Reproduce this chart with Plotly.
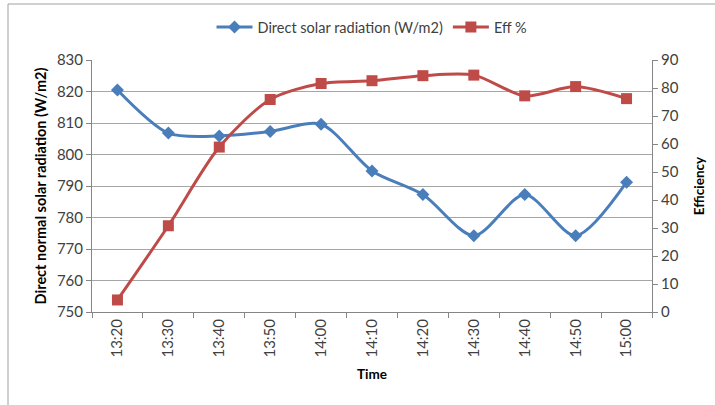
import plotly.graph_objects as go

# Observation times (10-minute steps)
times = ["13:20", "13:30", "13:40", "13:50", "14:00", "14:10",
         "14:20", "14:30", "14:40", "14:50", "15:00"]

# Direct normal solar radiation, W/m2
radiation = [820.5, 806.8, 805.9, 807.3, 809.6, 794.8,
             787.3, 774.2, 787.3, 774.2, 791.2]

# Collector efficiency, %
efficiency = [4.3, 30.8, 58.9, 75.9, 81.6, 82.6,
              84.4, 84.6, 77.2, 80.5, 76.2]

BLUE = "#4A7EBB"
RED = "#BE4B48"
FONT = "Lato, Open Sans, sans-serif"
TXT = "#404040"
AXIS = "#868686"

# plot-area geometry in pixels, used to place the outer frame and legend
L, R, T, B = 92, 652, 60, 312
PW, PH = R - L, B - T

fig = go.Figure()

fig.add_trace(go.Scatter(
    x=times, y=radiation, name="Direct solar radiation (W/m2)",
    mode="lines+markers",
    line=dict(color=BLUE, width=3, shape="spline", smoothing=0.8),
    marker=dict(symbol="diamond", size=10, color=BLUE),
    yaxis="y",
))

fig.add_trace(go.Scatter(
    x=times, y=efficiency, name="Eff %",
    mode="lines+markers",
    line=dict(color=RED, width=3, shape="spline", smoothing=0.8),
    marker=dict(symbol="square", size=11, color=RED),
    yaxis="y2",
))

fig.update_layout(
    width=715, height=405,
    margin=dict(l=L, r=715 - R, t=T, b=405 - B, autoexpand=False),
    paper_bgcolor="white", plot_bgcolor="white",
    font=dict(family=FONT, size=14, color=TXT),
    showlegend=True,
    legend=dict(
        orientation="h", x=0.5, xanchor="center",
        y=(B - 27) / PH, yanchor="middle",
        bgcolor="rgba(0,0,0,0)",
        font=dict(family=FONT, size=14.5, color=TXT),
        itemwidth=36, tracegroupgap=0,
    ),
    xaxis=dict(
        type="category",
        range=[-0.5, len(times) - 0.5],
        tickangle=-90,
        tickson="boundaries",
        ticks="outside", ticklen=5, tickcolor=AXIS,
        showline=True, linecolor=AXIS, linewidth=1,
        showgrid=False,
        tickfont=dict(family=FONT, size=15, color=TXT),
        title=dict(text="<b>Time</b>", font=dict(family=FONT, size=13.5, color="#000"),
                   standoff=12),
    ),
    yaxis=dict(
        range=[750, 830], dtick=10,
        ticks="outside", ticklen=5, tickcolor=AXIS,
        showline=True, linecolor=AXIS, linewidth=1,
        showgrid=True, gridcolor="#A6A6A6", gridwidth=1,
        zeroline=False,
        tickfont=dict(family=FONT, size=15, color=TXT),
        title=dict(text="<b>Direct normal solar radiation (W/m2)</b>",
                   font=dict(family=FONT, size=14.5, color="#000"), standoff=6),
    ),
    yaxis2=dict(
        range=[0, 90], dtick=10,
        overlaying="y", side="right",
        ticks="outside", ticklen=5, tickcolor=AXIS,
        showline=True, linecolor=AXIS, linewidth=1,
        showgrid=False, zeroline=False,
        tickfont=dict(family=FONT, size=15, color=TXT),
        title=dict(text="<b>Efficiency</b>",
                   font=dict(family=FONT, size=13.5, color="#000"), standoff=16),
    ),
    shapes=[dict(
        type="rect", xref="paper", yref="paper",
        x0=(8 - L) / PW, x1=(720 - L) / PW,
        y0=(B - 410) / PH, y1=(B - 4) / PH,
        line=dict(color="#A0A0A0", width=1), fillcolor="rgba(0,0,0,0)",
        layer="below",
    )],
)

fig.write_html("out.html")
